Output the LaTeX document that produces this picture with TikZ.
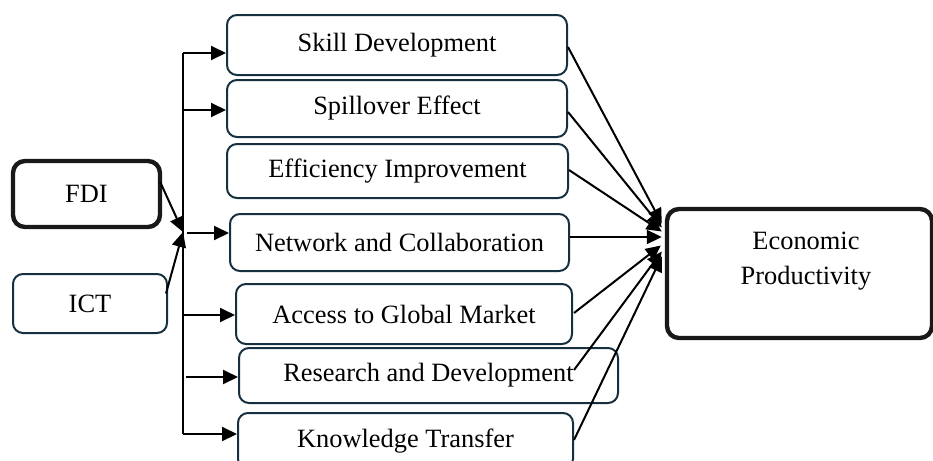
\documentclass[tikz,border=0pt]{standalone}
\usepackage{fontspec}
\setmainfont{Liberation Serif}
\usetikzlibrary{arrows.meta}
\usetikzlibrary{calc}
\definecolor{boxline}{RGB}{22,48,64}
\tikzset{
    factor/.style={
    draw=boxline, line width=1pt, rounded corners=5pt,
    inner sep=0pt, align=center
    },
    bold/.style={draw=black!90, line width=2.2pt, rounded corners=6pt},
    link/.style={line width=1pt, -{Triangle[length=7.5pt,width=7pt]}}
}

\begin{document}
\begin{tikzpicture}[x=0.5pt,y=-0.5pt]
\fontsize{13.2}{17.5}\selectfont
\useasboundingbox (0,0) rectangle (933,461);
\clip (0,0) rectangle (933,461);

\node [factor,bold,minimum width=73.5pt,minimum height=33pt](fdi) at (86.5,194) {FDI};
\node [factor,minimum width=77pt,minimum height=29.5pt](ict) at (90,303.5) {ICT};

\node [factor,minimum width=170pt,minimum height=30pt](sd) at (397,45) {Skill Development};
\node [factor,minimum width=170pt,minimum height=28.5pt](se) at (397,108.5) {Spillover Effect};
\node [factor,minimum width=170.5pt,minimum height=27pt](ei) at (397.5,171) {\raisebox{-1pt}{Efficiency Improvement}};
\node [factor,minimum width=169.5pt,minimum height=28.5pt](nc) at (399.5,242.5) {Network and Collaboration};
\node [factor,minimum width=168pt,minimum height=30pt](agm) at (404,314) {Access to Global Market};
\node [factor,minimum width=189.5pt,minimum height=27.5pt](rd) at (428.5,375.5) {Research and Development};
\node [factor,minimum width=167.5pt,minimum height=28pt](kt) at (405.5,441) {Knowledge Transfer};

\node [factor,bold,minimum width=132.5pt,minimum height=64.5pt](ep) at (799.5,273.5) {};
\node [align=center](eptext) at (806,261) {Economic\\Productivity};

\coordinate (top) at (183,53);
\coordinate (bottom) at (183,434);
\coordinate (hub) at (183,232);
\draw[line width=1pt] (top) -- (bottom);

\draw[link] ($(fdi.east)+(-2,-12)$) -- (hub);
\draw[link] ($(ict.east)+(-2,-10)$) -- (hub);

\draw[link] (top) -- (top -| sd.west);
\draw[link] ($(se.west -| top)+(0,1.5)$) -- ($(se.west)+(0,1.5)$);
\draw[link] ($(nc.west -| hub)+(4,-9.5)$) -- ($(nc.west)+(0,-9.5)$);
\draw[link] ($(agm.west -| top)+(0,1)$) -- ($(agm.west)+(0,1)$);
\draw[link] ($(rd.west -| top)+(3,1.5)$) -- ($(rd.west)+(0,1.5)$);
\draw[link] (bottom) -- (bottom -| kt.west);

\draw[link] ($(sd.east)+(0,2)$) -- ($(ep.west)+(-3,-50)$);
\draw[link] ($(se.east)+(0,3.5)$) -- ($(ep.west)+(-3,-46)$);
\draw[link] ($(ei.east)+(0,-1)$) -- ($(ep.west)+(-3,-42)$);
\draw[link] ($(nc.east)+(0,-5.5)$) -- ($(ep.west)+(-3,-36.5)$);
\draw[link] ($(agm.east)+(1,-1)$) -- ($(ep.west)+(-4,-28)$);
\draw[link] ($(rd.east)+(-45,-5.5)$) -- ($(ep.west)+(-3,-22)$);
\draw[link] ($(kt.east)+(0,-1)$) -- ($(ep.west)+(-3,-17)$);

\end{tikzpicture}
\end{document}
